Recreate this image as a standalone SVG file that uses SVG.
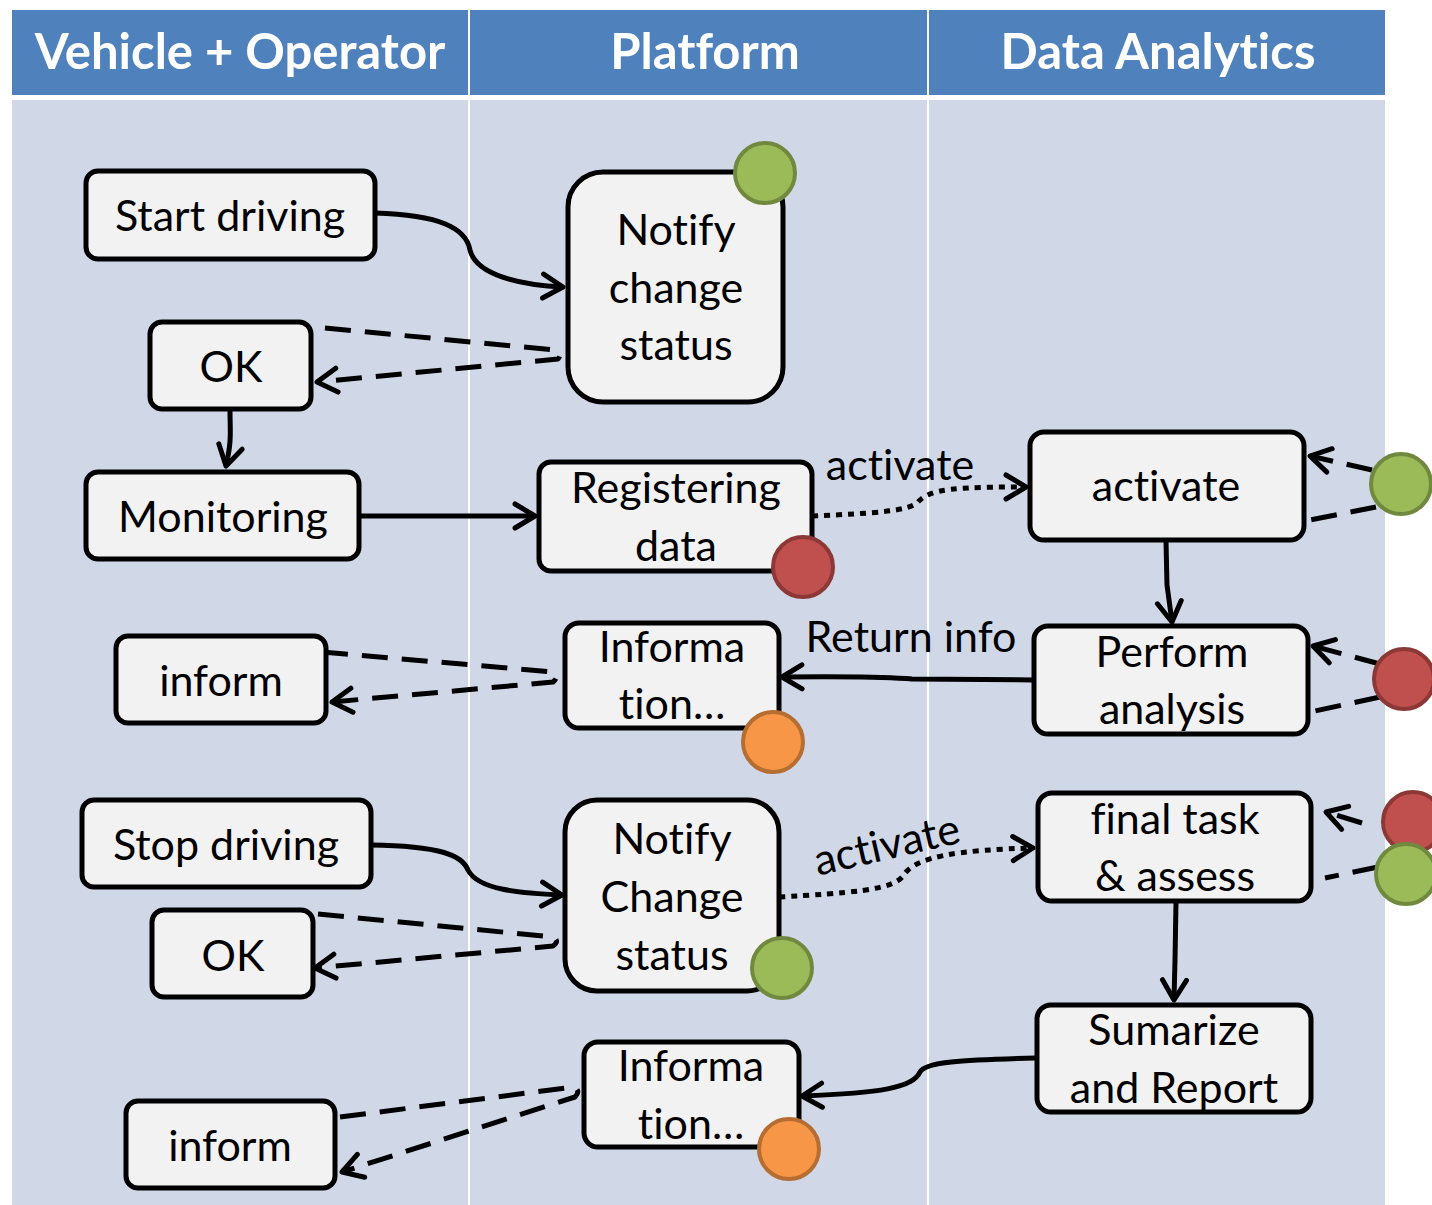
<svg xmlns="http://www.w3.org/2000/svg" width="1432" height="1205" viewBox="0 0 1432 1205">
<style>
text{font-variant-ligatures:none}
.lane{fill:#D0D8E8}
.hdr{fill:#4F81BD}
.ht{font-family:Lato,"Liberation Sans",sans-serif;font-weight:bold;font-size:49px;fill:#fff;text-anchor:middle}
.box{fill:#F2F2F2;stroke:#000;stroke-width:5}
.t{font-family:Lato,"Liberation Sans",sans-serif;font-size:43px;fill:#000;text-anchor:middle}
.lbl{font-family:Lato,"Liberation Sans",sans-serif;font-size:43px;fill:#000;text-anchor:middle}
.c{fill:none;stroke:#000;stroke-width:5;stroke-linecap:butt;stroke-linejoin:round}
.d{stroke-dasharray:26 14}
.o{stroke-dasharray:6 6}
.g{fill:#9BBB59;stroke:#71893F;stroke-width:4}
.r{fill:#C0504D;stroke:#8C3836;stroke-width:4}
.y{fill:#F79646;stroke:#B66D31;stroke-width:4}
</style>
<defs>
<marker id="ah" viewBox="0 0 26 30" refX="23" refY="15" markerWidth="26" markerHeight="30" markerUnits="userSpaceOnUse" orient="auto">
<path d="M3,3 L23,15 L3,27" fill="none" stroke="#000" stroke-width="5" stroke-linecap="round" stroke-linejoin="round"/>
</marker>
</defs>
<rect width="1432" height="1205" fill="#fff"/>
<g id="lanes">
<rect class="hdr" x="12" y="10" width="456" height="85"/>
<rect class="hdr" x="470" y="10" width="457" height="85"/>
<rect class="hdr" x="929" y="10" width="456" height="85"/>
<rect class="lane" x="12" y="100" width="456" height="1105"/>
<rect class="lane" x="470" y="100" width="457" height="1105"/>
<rect class="lane" x="929" y="100" width="456" height="1105"/>
<text class="ht" x="240" y="69">Vehicle + Operator</text>
<text class="ht" x="705" y="69">Platform</text>
<text class="ht" x="1158" y="69">Data Analytics</text>
</g>
<g id="connectors">
<path class="c" d="M375,213 C440,215 466,228 470,250 C476,275 520,285 563,287" marker-end="url(#ah)"/>
<path class="c d" d="M325,328 L555,350 Q563,353 558,359 L317,382" marker-end="url(#ah)"/>
<path class="c" d="M230,410 C230,432 232,440 226,466" marker-end="url(#ah)"/>
<path class="c" d="M360,516 L535,516" marker-end="url(#ah)"/>
<path class="c o" d="M812,516 C880,513 908,511 918,502 C930,488 960,487 1026,487" marker-end="url(#ah)"/>
<path class="c" d="M1166,541 L1167,585 L1172,622" marker-end="url(#ah)"/>
<path class="c d" d="M1372,470 L1310,456" marker-end="url(#ah)"/>
<path class="c d" d="M1376,507 L1305,521"/>
<path class="c d" d="M1380,664 L1313,646" marker-end="url(#ah)"/>
<path class="c d" d="M1380,697 L1310,712"/>
<path class="c" d="M1034,680 L912,679 C895,678 880,676 782,677" marker-end="url(#ah)"/>
<path class="c d" d="M322,652 L553,672 Q560,676 553,682 L332,702" marker-end="url(#ah)"/>
<path class="c d" d="M1362,823 L1326,812" marker-end="url(#ah)"/>
<path class="c d" d="M1378,867 L1325,878"/>
<path class="c" d="M371,845 C440,846 462,855 468,870 C478,890 520,893 562,895" marker-end="url(#ah)"/>
<path class="c d" d="M318,914 L553,937 Q560,941 553,946 L315,968" marker-end="url(#ah)"/>
<path class="c o" d="M779,897 C850,893 893,890 903,876 C915,856 960,850 1033,848" marker-end="url(#ah)"/>
<path class="c" d="M1176,902 L1175,960 L1174,1000" marker-end="url(#ah)"/>
<path class="c" d="M1036,1058 C960,1060 925,1062 920,1072 C913,1088 880,1093 802,1096" marker-end="url(#ah)"/>
<path class="c d" d="M340,1117 L574,1087 Q581,1091 575,1097 L342,1172" marker-end="url(#ah)"/>
<text class="lbl" x="900" y="480">activate</text>
<text class="lbl" x="911" y="652">Return info</text>
<text class="lbl" x="0" y="0" transform="translate(890,859) rotate(-13)">activate</text>
</g>
<g id="n1"><rect class="box" x="86" y="171" width="289" height="88" rx="12"/><text class="t" x="230" y="231">Start driving</text></g>
<g id="n2"><rect class="box" x="568" y="172" width="215" height="230" rx="35"/><text class="t" x="676" y="245">Notify</text><text class="t" x="676" y="303">change</text><text class="t" x="676" y="360">status</text><circle class="g" cx="765" cy="173" r="30"/></g>
<g id="n3"><rect class="box" x="150" y="322" width="161" height="87" rx="12"/><text class="t" x="231" y="382">OK</text></g>
<g id="n4"><rect class="box" x="86" y="472" width="273" height="87" rx="12"/><text class="t" x="223" y="532">Monitoring</text></g>
<g id="n5"><rect class="box" x="539" y="462" width="273" height="109" rx="12"/><text class="t" x="676" y="503">Registering</text><text class="t" x="676" y="561">data</text><circle class="r" cx="803" cy="567" r="30"/></g>
<g id="n6"><rect class="box" x="1030" y="432" width="274" height="108" rx="14"/><text class="t" x="1166" y="501">activate</text><circle class="g" cx="1401" cy="484" r="30"/></g>
<g id="n7"><rect class="box" x="116" y="636" width="210" height="87" rx="12"/><text class="t" x="221" y="696">inform</text></g>
<g id="n8"><rect class="box" x="565" y="623" width="214" height="105" rx="14"/><text class="t" x="672" y="662">Informa</text><text class="t" x="672" y="719">tion…</text><circle class="y" cx="773" cy="742" r="30"/></g>
<g id="n9"><rect class="box" x="1034" y="626" width="274" height="108" rx="14"/><text class="t" x="1172" y="667">Perform</text><text class="t" x="1172" y="724">analysis</text><circle class="r" cx="1404" cy="679" r="30"/></g>
<g id="n10"><rect class="box" x="82" y="800" width="289" height="87" rx="12"/><text class="t" x="226" y="860">Stop driving</text></g>
<g id="n11"><rect class="box" x="152" y="910" width="161" height="87" rx="12"/><text class="t" x="233" y="971">OK</text></g>
<g id="n12"><rect class="box" x="565" y="800" width="214" height="191" rx="32"/><text class="t" x="672" y="854">Notify</text><text class="t" x="672" y="912">Change</text><text class="t" x="672" y="970">status</text><circle class="g" cx="782" cy="968" r="30"/></g>
<g id="n13"><rect class="box" x="1038" y="793" width="273" height="108" rx="14"/><text class="t" x="1175" y="834">final task</text><text class="t" x="1175" y="891">&amp; assess</text><circle class="r" cx="1413" cy="822" r="30"/><circle class="g" cx="1406" cy="874" r="30"/></g>
<g id="n14"><rect class="box" x="1037" y="1005" width="274" height="107" rx="14"/><text class="t" x="1174" y="1045">Sumarize</text><text class="t" x="1174" y="1103">and Report</text></g>
<g id="n15"><rect class="box" x="126" y="1101" width="209" height="87" rx="12"/><text class="t" x="230" y="1161">inform</text></g>
<g id="n16"><rect class="box" x="584" y="1042" width="215" height="105" rx="14"/><text class="t" x="691" y="1081">Informa</text><text class="t" x="691" y="1139">tion…</text><circle class="y" cx="789" cy="1149" r="30"/></g>
</svg>
